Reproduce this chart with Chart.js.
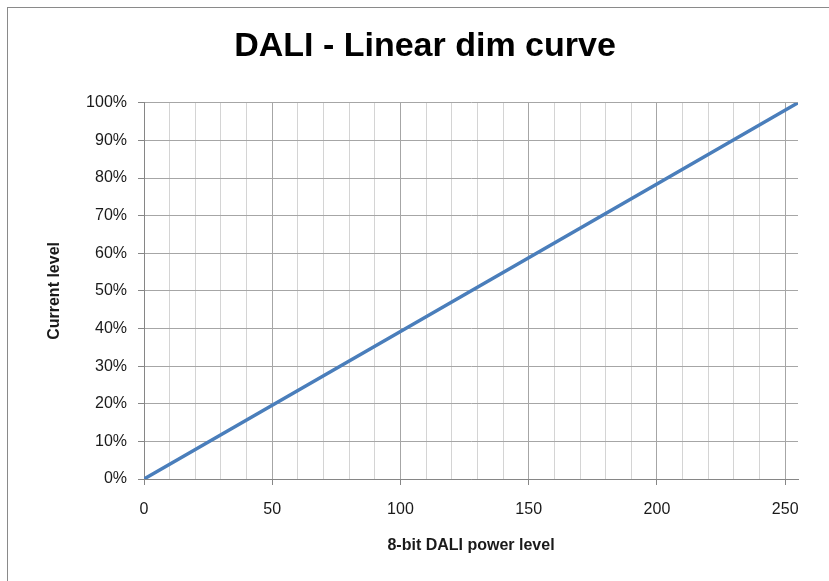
<!DOCTYPE html>
<html>
<head>
<meta charset="utf-8">
<script src="https://cdn.jsdelivr.net/npm/chart.js@4/dist/chart.umd.min.js"></script>
<style>
  body { margin: 0; background: #fff; overflow: hidden; }
  #wrap { position: relative; width: 829px; height: 581px; overflow: hidden; }
  #frame { position: absolute; left: 7px; top: 7px; width: 900px; height: 700px;
           border-left: 1px solid #8a8a8a; border-top: 1px solid #8a8a8a; pointer-events: none; }
  canvas { position: absolute; left: 0; top: 0; }
</style>
</head>
<body>
<div id="wrap">
  <canvas id="dim-chart" width="850" height="581"></canvas>
  <div id="frame"></div>
</div>
<script>
// Start DALI linear dim curve

// Power levels (x) and current level in % (y)
const powerLevels = [0, 50, 100, 150, 200, 255];
const currentLevels = [0, 19.6, 39.2, 58.8, 78.4, 100];

// Tick labels
const xTickLabels = [0, 50, 100, 150, 200, 250];
const yTickLabels = [0, 10, 20, 30, 40, 50, 60, 70, 80, 90, 100];

const points = powerLevels.map((x, i) => ({ x: x, y: currentLevels[i] }));

const textColor = '#1a1a1a';
const majorGrid = '#a6a6a6';
const minorGrid = '#d4d4d4';
const axisColor = '#868686';
const fontFamily = 'Liberation Sans, Arial, sans-serif';

// Centre the title over the whole chart frame, not just left of the padding
const titleCentre = {
  id: 'titleCentre',
  afterLayout(chart) {
    if (chart.titleBlock) chart.titleBlock.right = chart.width;
  }
};

const ctx = document.getElementById('dim-chart').getContext('2d');

const dimChart = new Chart(ctx, {
  type: 'line',
  data: {
    datasets: [{
      label: 'Current level',
      data: points,
      borderColor: 'rgb(74, 126, 187)',
      backgroundColor: 'rgb(74, 126, 187)',
      borderWidth: 3.5,
      pointRadius: 0,
      tension: 0,
      fill: false
    }]
  },
  plugins: [titleCentre],
  options: {
    responsive: false,
    animation: false,
    layout: { padding: { left: 0, right: 52, top: 0, bottom: 0 } },
    scales: {
      x: {
        type: 'linear',
        min: 0,
        max: 255,
        ticks: {
          stepSize: 10,
          includeBounds: false,
          autoSkip: false,
          maxRotation: 0,
          padding: 15,
          color: textColor,
          font: { size: 16, family: fontFamily },
          callback: function(value) {
            return xTickLabels.includes(value) ? String(value) : '';
          }
        },
        grid: {
          color: function(c) {
            const v = c.tick ? c.tick.value : 0;
            return v % 50 === 0 ? majorGrid : minorGrid;
          },
          tickColor: function(c) {
            const v = c.tick ? c.tick.value : 0;
            return xTickLabels.includes(v) ? axisColor : 'rgba(0,0,0,0)';
          },
          tickLength: 6,
          lineWidth: 1
        },
        border: { color: axisColor, width: 1 },
        title: {
          display: true,
          text: '8-bit DALI power level',
          color: textColor,
          font: { size: 16, weight: 'bold', family: fontFamily },
          padding: { top: 0, bottom: 26 }
        },
        afterFit: function(scale) { scale.height = 102; }
      },
      y: {
        min: 0,
        max: 100,
        ticks: {
          stepSize: 10,
          padding: 11,
          color: textColor,
          font: { size: 16, family: fontFamily },
          callback: function(value) {
            return yTickLabels.includes(value) ? value + '%' : '';
          }
        },
        grid: {
          color: majorGrid,
          tickColor: axisColor,
          tickLength: 6,
          lineWidth: 1
        },
        border: { color: axisColor, width: 1 },
        title: {
          display: true,
          text: 'Current level',
          color: textColor,
          font: { size: 16, weight: 'bold', family: fontFamily },
          padding: { top: 45, bottom: 0 }
        },
        afterFit: function(scale) { scale.width = 144; }
      }
    },
    plugins: {
      legend: { display: false },
      tooltip: { enabled: false },
      title: {
        display: true,
        text: 'DALI - Linear dim curve',
        color: '#000',
        font: { size: 34, weight: 'bold', family: fontFamily, lineHeight: 1.2 },
        padding: { top: 26, bottom: 36 }
      }
    }
  }
});

// End DALI linear dim curve
</script>
</body>
</html>
